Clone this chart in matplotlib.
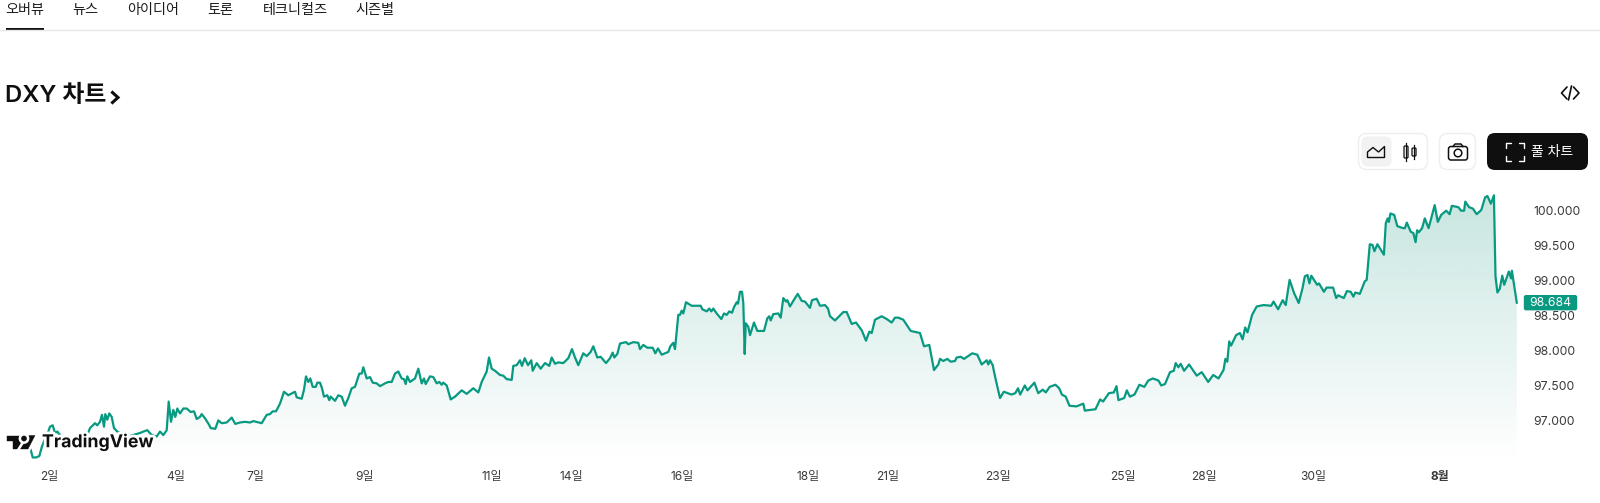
import numpy as np
import matplotlib
matplotlib.use("Agg")
import matplotlib.pyplot as plt
import matplotlib.patheffects as pe
from matplotlib.patches import FancyBboxPatch, Circle, Polygon, Rectangle

plt.rcParams['font.family'] = ['Inter', 'Noto Sans CJK KR', 'DejaVu Sans']

# ---------- data: session position along the time axis and index level ----------
pos_1 = [30.7,32.7,36,39.3,42,42.7,45,48.3,50,52.7,55,57.3,60,61.7,66.7,75,83.3,87.3,90,95,97.3,100,102,104,105.3,107.3,109.3,111.7,114,117.3,128.3,140,143.3,147.3,151.7,156.7,160,163.3,166.7,168.7,171,173.3,175.3,177.3,180,183.3,186.7,190.7,194,196.7,200,201.7,205,209]
val_1 = [96.58,96.47,96.47,96.49,96.63,96.65,96.74,96.84,96.91,96.93,96.82,96.84,96.79,96.76,96.67,96.60,96.70,96.79,96.89,96.96,96.93,96.98,97.08,96.91,97.09,97.01,97.10,97.05,96.89,96.84,96.77,96.82,96.84,96.86,96.79,96.77,96.84,96.79,96.86,97.27,96.98,97.15,97.05,97.17,97.10,97.17,97.17,97.12,97.13,97.02,97.05,97.09,97.03,96.94]
pos_2 = [210.7,215.3,218.3,221.7,226.7,231.7,235.3,240,245,250,253.3,261.7,266.7,270,272.7,276,280,284,288.3,295,296.7,301.7,304,306,308.3,310.3,312.7,315.7,317.3,320,322,324,327.3,329.3,330.7,335,338.3,341.7,345,348.3,351.7,355,359.3,361.7,363.3,366.7,370,372.7,376.7,380,385,388.3,391.7,395,398.3,401.7,404,405.7,407.3,410,415,418.3,421.7,424,425.7,430,433.3,436.7,439.3,441.7,443.3,446.7,450.7,455,461.7,466.7,471.7,473.3,478.3,481.7,486.7,489,491.7,495,498.3]
val_2 = [96.89,96.88,97.00,96.96,96.97,97.04,96.95,96.97,96.98,96.97,96.99,96.96,97.08,97.09,97.13,97.13,97.24,97.41,97.36,97.41,97.33,97.31,97.44,97.63,97.55,97.60,97.48,97.48,97.54,97.54,97.46,97.34,97.36,97.29,97.34,97.28,97.36,97.34,97.21,97.32,97.46,97.48,97.67,97.67,97.76,97.60,97.62,97.54,97.53,97.49,97.53,97.55,97.55,97.67,97.70,97.60,97.59,97.52,97.63,97.55,97.60,97.74,97.53,97.60,97.52,97.63,97.62,97.53,97.55,97.51,97.54,97.50,97.30,97.34,97.43,97.38,97.44,97.46,97.40,97.55,97.70,97.90,97.74,97.71,97.67]
pos_3 = [500,503.3,506.7,511.7,513.3,516.7,520,522,524.7,528,531.3,532.7,536.7,540.7,545,549.3,551.7,555,558.3,563.3,568.3,572,575,578.3,583.3,586.7,590.7,593.3,597.3,600.7,606,610,612.7,614.3,617.3,620,626,628.3,633.3,638.3,640,643.3,647.3,652.7,655.3,658,661.7,668.3,670.3,673.3,675,678.3,680,681.7,683.3,686,691.7,700.7,702.3,706.7,709.3,711.3,713.3,716.7,721.3,724,726.7,729.3,732,734,736.7,738,740,742,743.3,744.7,745.7,748.3,750]
val_3 = [97.65,97.64,97.59,97.58,97.78,97.79,97.86,97.78,97.89,97.79,97.86,97.71,97.82,97.74,97.82,97.78,97.90,97.81,97.83,97.82,97.89,98.02,97.90,97.79,97.96,97.92,97.98,98.06,97.90,97.91,97.82,97.89,97.97,97.90,97.95,98.10,98.12,98.09,98.12,98.11,98.02,98.08,98.04,98.04,97.96,98.03,97.94,97.98,98.06,98.11,98.02,98.51,98.51,98.57,98.53,98.69,98.64,98.64,98.59,98.56,98.60,98.56,98.60,98.53,98.45,98.53,98.51,98.56,98.54,98.62,98.69,98.67,98.84,98.84,98.68,97.95,98.39,98.34,98.22]
pos_4 = [754,757.3,764,767.3,769.3,770.7,773.3,778.3,780.7,783.3,786,787.3,790,793.3,797.7,801.7,805,810,812,816.7,820,825,828,830,835,843.3,846.7,851.7,856,861.7,866,869.3,871.7,875,881.7,886.7,891.7,895,898.3,903.3,908.3,910.7,920,924,929.3,934,938.3,940,943.3,947.3,950.7,955,956.7,960.7,964,972.3,977.3,981.7,986.7,988.3,990,992.7,995,1000]
val_4 = [98.40,98.28,98.28,98.46,98.49,98.43,98.52,98.53,98.47,98.75,98.70,98.72,98.63,98.71,98.81,98.71,98.70,98.61,98.72,98.74,98.64,98.65,98.60,98.49,98.43,98.55,98.55,98.38,98.40,98.29,98.14,98.27,98.25,98.44,98.49,98.45,98.40,98.47,98.47,98.44,98.33,98.28,98.25,98.06,98.08,97.72,97.80,97.88,97.85,97.88,97.84,97.85,97.90,97.91,97.88,97.96,97.94,97.80,97.86,97.80,97.86,97.79,97.63,97.32]
pos_5 = [1003.8,1007.6,1011.5,1015.3,1018,1020.2,1024.8,1027.5,1034.4,1038.2,1042.8,1045.8,1049.7,1055.4,1059.2,1061.9,1065.7,1069.5,1076.4,1083.3,1084.8,1095.5,1100.1,1103.1,1108.9,1113.8,1116.5,1118.4,1124.2,1126.8,1129.9,1134.5,1139.4,1144.4,1148.2,1152.8,1158.5,1161.2,1165,1170,1173.8,1175.7,1178.4,1180.7,1184.1,1189.1,1196.7,1201.7,1208.2,1213.2,1218.5,1223.5,1225.4,1227.3,1229.2,1231.1,1236.1,1239.9,1242.6,1245.2,1247.5,1252.1,1256.7]
val_5 = [97.41,97.39,97.37,97.39,97.46,97.37,97.50,97.43,97.54,97.39,97.44,97.40,97.48,97.51,97.46,97.37,97.34,97.21,97.20,97.24,97.14,97.16,97.30,97.27,97.39,97.40,97.49,97.29,97.32,97.43,97.34,97.37,97.51,97.48,97.57,97.60,97.57,97.50,97.52,97.69,97.71,97.82,97.76,97.81,97.71,97.80,97.64,97.69,97.55,97.65,97.60,97.72,97.88,97.84,98.13,98.07,98.22,98.25,98.16,98.33,98.26,98.51,98.63]
pos_6 = [1263.6,1271.2,1273.5,1278.1,1282.7,1285.7,1289.6,1294.1,1298.7,1302.5,1304.8,1307.5,1309.4,1311.3,1317.1,1319,1323.9,1326.6,1333.1,1336.2,1338.1,1343.8,1346.9,1350.7,1353.4,1355.3,1359.8,1364.8,1366.7,1369.8,1372.5,1374.4,1377.4,1383.9,1385.8,1387.7,1388.9,1390.4,1394.2,1397.3,1403,1404.9,1406.8,1410.7,1413.3,1415.6,1417.1,1418.7,1422.1,1424.8,1428.6,1434.7,1437.8,1441.2,1446.2,1449.6,1451.9,1458.4,1461.1,1464.1,1465.3,1469.1,1472.9,1476.7,1481.3,1485.1,1487.4,1490.9,1493.9,1495.5,1497.4,1499.7,1502.3,1504.2,1506.2,1508.8,1511.1,1511.9,1516.8]
val_6 = [98.65,98.64,98.70,98.59,98.72,98.65,99.01,98.82,98.68,98.89,99.06,99.08,98.96,99.07,98.94,98.96,98.84,98.90,98.90,98.75,98.79,98.75,98.85,98.84,98.77,98.83,98.81,98.99,99.01,99.52,99.51,99.42,99.52,99.37,99.82,99.89,99.84,99.96,99.94,99.78,99.75,99.75,99.83,99.70,99.68,99.55,99.72,99.69,99.75,99.89,99.75,100.08,99.84,99.94,100.00,99.95,100.07,100.05,100.00,100.00,100.13,100.05,100.03,99.95,100.01,100.19,100.21,100.10,100.22,99.06,98.83,98.88,99.07,98.94,99.02,99.13,99.03,99.14,98.684]

y_ticks = [97.0, 97.5, 98.0, 98.5, 99.0, 99.5, 100.0]
x_tick_pos = [49, 175.5, 255, 365, 492, 571, 682, 808, 888, 998, 1123, 1204, 1313, 1440]
x_tick_labels = ['2일', '4일', '7일', '9일', '11일', '14일', '16일', '18일', '21일', '23일', '25일', '28일', '30일', '8월']
last_price = 98.684
tabs = ['오버뷰', '뉴스', '아이디어', '토론', '테크니컬즈', '시즌별']
tab_left = [5, 72.5, 127.5, 207.5, 262.5, 355.5]

pos = np.array(pos_1 + pos_2 + pos_3 + pos_4 + pos_5 + pos_6)
val = np.array(val_1 + val_2 + val_3 + val_4 + val_5 + val_6)

GREEN = '#089981'
AREA = '#0a8f78'
INK = '#0f0f0f'
W, H = 1600, 503

fig = plt.figure(figsize=(W / 100, H / 100), dpi=100, facecolor='white')
ax_top, ax_bot, ax_right = 190, 462, 1518
ax = fig.add_axes([0, 1 - ax_bot / H, ax_right / W, (ax_bot - ax_top) / H])
ax.set_xlim(0, ax_right)
ax.set_ylim(96.405, 100.296)
ax.patch.set_alpha(0)
for s in ax.spines.values():
    s.set_visible(False)

# gradient area under the line
poly = ax.fill_between(pos, val, ax.get_ylim()[0], color='none', lw=0)
grad = np.zeros((256, 1, 4))
grad[..., :3] = matplotlib.colors.to_rgb(AREA)
grad[:, 0, 3] = np.linspace(0.23, 0.0, 256)
im = ax.imshow(grad, aspect='auto', extent=(0, ax_right, *ax.get_ylim()), origin='upper', zorder=1)
im.set_clip_path(poly.get_paths()[0], ax.transData)
ax.plot(pos, val, color=GREEN, lw=1.6, solid_joinstyle='round', zorder=2)

ax.yaxis.tick_right()
ax.set_yticks(y_ticks)
ax.set_yticklabels([f'{v:.3f}' for v in y_ticks], fontsize=8.8, color='#3a3a3a')
ax.tick_params(axis='y', length=0, pad=11)
ax.set_xticks(x_tick_pos)
ax.set_xticklabels(x_tick_labels, fontsize=8.6, color='#3a3a3a')
ax.tick_params(axis='x', length=0, pad=6.3)
ax.get_xticklabels()[-1].set_fontweight('bold')

# last price tag
ov = fig.add_axes([0, 0, 1, 1], zorder=5)
ov.set_xlim(0, W)
ov.set_ylim(H, 0)
ov.axis('off')
ov.patch.set_alpha(0)

tag_y = ov.transData.inverted().transform(ax.transData.transform((0, last_price)))[1]
ov.add_patch(FancyBboxPatch((1524.5, tag_y - 7), 52, 14, boxstyle='round,pad=0,rounding_size=1.5',
                            fc=GREEN, ec=GREEN, lw=1))
ov.text(1550.5, tag_y, f'{last_price:.3f}', color='white', fontsize=8.8, ha='center', va='center')

# top navigation
for t, x in zip(tabs, tab_left):
    ov.text(x, 10, t, fontsize=10.2, color='#1c1c1c', ha='left', va='center')
ov.plot([0, W], [29.5, 29.5], color='#e6e6e6', lw=1)
ov.add_patch(Rectangle((5.5, 28), 38.5, 2.2, fc=INK, ec='none'))

# heading
ov.text(5, 96, 'DXY 차트', fontsize=17.2, fontweight='semibold', color=INK, ha='left', va='center')
ov.plot([112.5, 118, 112.5], [92.5, 97.5, 102.5], color=INK, lw=2.2, solid_joinstyle='miter')

# embed icon </>
ico = dict(color=INK, lw=1.2, solid_capstyle='round')
ov.plot([1567, 1561.5, 1567], [87, 93, 99], **ico)
ov.plot([1573.5, 1579, 1573.5], [87, 93, 99], **ico)
ov.plot([1568.5, 1571.5], [100, 86], **ico)

# toolbar
def rbox(x0, y0, x1, y1, r, fc, ec='none', lw=1.0):
    ov.add_patch(FancyBboxPatch((x0, y0), x1 - x0, y1 - y0, boxstyle=f'round,pad=0,rounding_size={r}',
                                fc=fc, ec=ec, lw=lw))

rbox(1358.5, 133.5, 1427.5, 169.5, 8, 'white', '#eeeeee')
rbox(1361.5, 136.5, 1391.5, 166.5, 6, '#f2f2f2')
rbox(1439.5, 133.5, 1475.5, 169.5, 8, 'white', '#eeeeee')
rbox(1487, 133, 1588, 170, 8, INK)

# area icon
ov.add_patch(Polygon([(1367.5, 157.5), (1367.5, 152), (1373, 147.5), (1378.5, 152), (1384.5, 146.5), (1384.5, 157.5)],
                     closed=True, fc='none', ec=INK, lw=1.0, joinstyle='round'))
# candle icon
for cx, y0, y1, w0, w1 in [(1406, 146, 158, 143, 161), (1414, 148, 156, 145, 159)]:
    ov.plot([cx, cx], [w0, w1], color=INK, lw=0.9)
    rbox(cx - 2, y0, cx + 2, y1, 1, 'white', INK, 0.9)
# camera icon
rbox(1448.5, 146.5, 1467.5, 160, 2.5, 'white', INK, 1.1)
ov.plot([1453, 1455, 1461, 1463], [146.5, 144, 144, 146.5], color=INK, lw=1.1)
ov.add_patch(Circle((1458, 153), 3.8, fc='white', ec=INK, lw=1.1))

# full-chart button
br = dict(color='white', lw=1.0, solid_capstyle='round')
ov.plot([1511, 1506, 1506], [143, 143, 148], **br)
ov.plot([1519, 1524, 1524], [143, 143, 148], **br)
ov.plot([1511, 1506, 1506], [161, 161, 156], **br)
ov.plot([1519, 1524, 1524], [161, 161, 156], **br)
ov.text(1552.5, 152, '풀 차트', fontsize=10, color='white', ha='center', va='center')

# watermark
halo = [pe.withStroke(linewidth=4, foreground='white')]
ov.text(42, 442.5, 'TradingView', fontsize=12.8, fontweight='bold', color=INK, ha='left', va='center', path_effects=halo)
logo = [Polygon([(7, 435.5), (20.5, 435.5), (20.5, 449), (13, 449), (13, 441), (7, 441)], closed=True),
        Polygon([(29, 435.5), (35, 435.5), (28, 449), (20.5, 449)], closed=True),
        Circle((24, 438.5), 2.6)]
for p in logo:
    p.set(fc=INK, ec=INK, lw=0.3, path_effects=halo)
    ov.add_patch(p)

fig.savefig('out.png', dpi=100, facecolor='white')
